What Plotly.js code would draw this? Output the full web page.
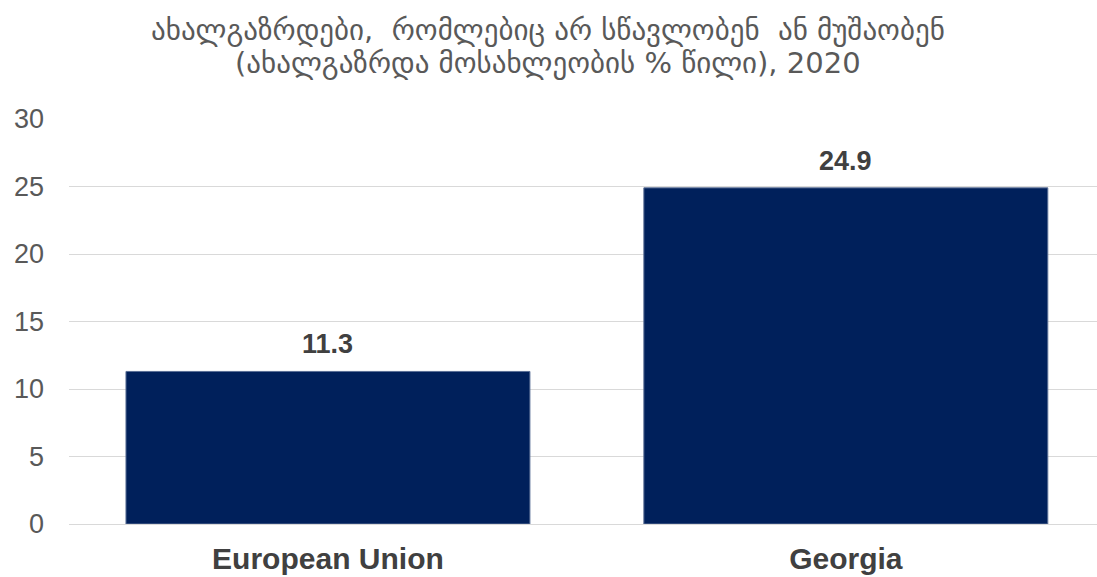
<!DOCTYPE html>
<html>
<head>
<meta charset="utf-8">
<script src="https://cdn.plot.ly/plotly-3.0.1.min.js"></script>
<style>html,body{margin:0;padding:0;background:#fff;}#chart{width:1097px;height:577px;}</style>
</head>
<body>
<div id="chart"></div>
<script>
const categories = ["European Union", "Georgia"];
const values = [11.3, 24.9];
const valueLabels = ["11.3", "24.9"];
const titleLines = ["ახალგაზრდები,  რომლებიც არ სწავლობენ  ან მუშაობენ", "(ახალგაზრდა მოსახლეობის % წილი), 2020"];
const yTicks = [0, 5, 10, 15, 20, 25, 30];

const trace = {
  type: "bar",
  x: categories,
  y: values,
  marker: {color: "#00205B", line: {color: "#5a6f96", width: 1}},
  width: 0.78,
  hoverinfo: "none"
};

const labelAnnotations = categories.map((c, i) => ({
  x: c, y: values[i], xref: "x", yref: "y",
  text: valueLabels[i], showarrow: false,
  yanchor: "bottom", yshift: 10,
  font: {family: "Liberation Sans, Arial, sans-serif", size: 27, color: "#404040", weight: "bold"}
}));

const titleFont = {family: "DejaVu Sans, Liberation Sans, sans-serif", size: 29, color: "#595959"};
const titleAnnotations = [
  {text: titleLines[0], x: 0.466, y: 1.22, xref: "paper", yref: "paper", xanchor: "center", yanchor: "middle", showarrow: false, font: titleFont},
  {text: titleLines[1], x: 0.466, y: 1.138, xref: "paper", yref: "paper", xanchor: "center", yanchor: "middle", showarrow: false, font: titleFont}
];

const layout = {
  width: 1097, height: 577,
  margin: {l: 69, r: 0, t: 119, b: 53},
  paper_bgcolor: "#ffffff",
  plot_bgcolor: "#ffffff",
  showlegend: false,
  annotations: titleAnnotations.concat(labelAnnotations),
  xaxis: {
    type: "category",
    range: [-0.5, 1.485],
    showgrid: false,
    zeroline: false,
    showline: false,
    ticks: "",
    ticklabelstandoff: 14,
    tickfont: {family: "Liberation Sans, Arial, sans-serif", size: 30, color: "#404040", weight: "bold"},
    fixedrange: true
  },
  yaxis: {
    range: [0, 30],
    tickvals: yTicks,
    ticktext: yTicks.map(String),
    showgrid: true,
    gridcolor: "#d9d9d9",
    gridwidth: 1,
    zeroline: true,
    zerolinecolor: "#d9d9d9",
    zerolinewidth: 1,
    showline: false,
    ticks: "",
    ticklabelstandoff: 24,
    tickfont: {family: "Liberation Sans, Arial, sans-serif", size: 27, color: "#595959"},
    fixedrange: true
  },
  bargap: 0.22
};

Plotly.newPlot("chart", [trace], layout, {displayModeBar: false, staticPlot: true});
</script>
</body>
</html>
